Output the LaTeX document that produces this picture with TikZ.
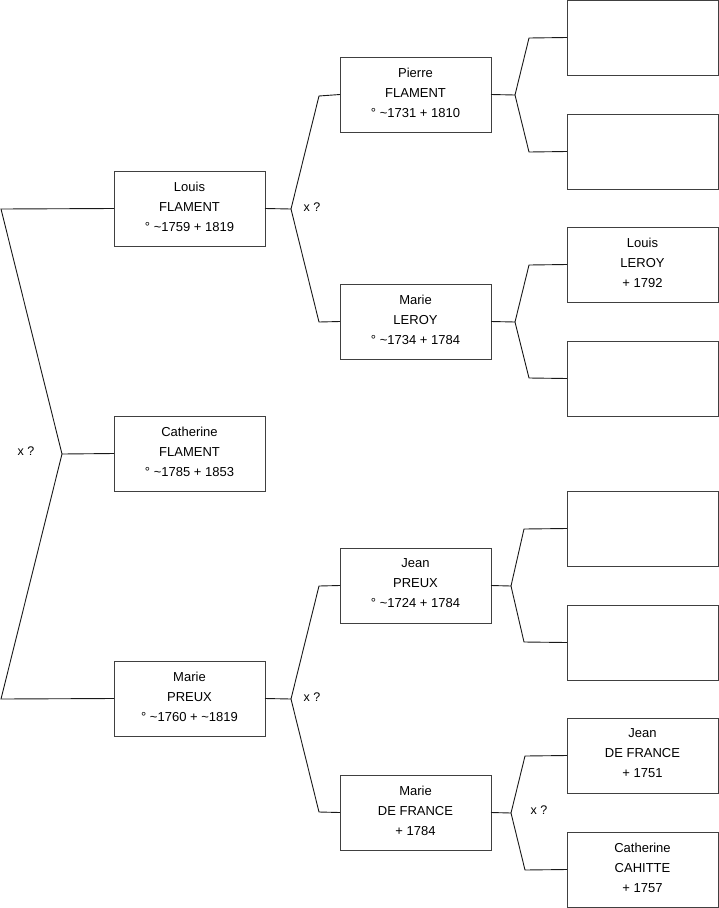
\documentclass[tikz,border=0pt]{standalone}
\usepackage{fontspec}
\setmainfont{Liberation Sans}
\begin{document}
\begin{tikzpicture}[x=1pt,y=-1pt,
  box/.style={draw=black!75, line width=1pt, fill=white, minimum width=151pt, minimum height=75pt,
    inner sep=0pt, outer sep=0pt, align=center, anchor=north west, text depth=4pt,
    font=\fontsize{13}{20}\selectfont},
  link/.style={draw=black!90, line width=0.9pt},
  lbl/.style={font=\fontsize{12.5}{14}\selectfont, inner sep=0pt}]
\useasboundingbox (0,0) rectangle (719,908);
% generation 1
\node[box] (lf) at (114,171) {Louis\\FLAMENT\\° \textasciitilde1759 + 1819};
\node[box] (cf) at (114,416) {Catherine\\FLAMENT\\° \textasciitilde1785 + 1853};
\node[box] (mp) at (114,661) {Marie\\PREUX\\° \textasciitilde1760 + \textasciitilde1819};
% generation 2
\node[box] (pf) at (340,57) {Pierre\\FLAMENT\\° \textasciitilde1731 + 1810};
\node[box] (ml) at (340,284) {Marie\\LEROY\\° \textasciitilde1734 + 1784};
\node[box] (jp) at (340,548) {Jean\\PREUX\\° \textasciitilde1724 + 1784};
\node[box] (md) at (340,775) {Marie\\DE FRANCE\\+ 1784};
% generation 3
\node[box] (r1) at (567,0) {};
\node[box] (r2) at (567,114) {};
\node[box] (r3) at (567,227) {Louis\\LEROY\\+ 1792};
\node[box] (r4) at (567,341) {};
\node[box] (r5) at (567,491) {};
\node[box] (r6) at (567,605) {};
\node[box] (r7) at (567,718) {Jean\\DE FRANCE\\+ 1751};
\node[box] (r8) at (567,832) {Catherine\\CAHITTE\\+ 1757};
% left bracket
\coordinate (a1) at (1,209);
\coordinate (a2) at (62,454);
\coordinate (a3) at (1,699);
\draw[link] (lf.west) -- (a1) -- (a2) -- (cf.west);
\draw[link] (a2) -- (a3) -- (mp.west);
\node[lbl] (x1) at (26,451) {x ?};
% middle brackets
\coordinate (b1) at (291,209);
\coordinate (b1u) at (319,96);
\coordinate (b1d) at (319,322);
\draw[link] (lf.east) -- (b1) -- (b1u) -- (pf.west);
\draw[link] (b1) -- (b1d) -- (ml.west);
\node[lbl] (x2) at (312,207) {x ?};
\coordinate (b2) at (291,699);
\coordinate (b2u) at (319,586);
\coordinate (b2d) at (319,812);
\draw[link] (mp.east) -- (b2) -- (b2u) -- (jp.west);
\draw[link] (b2) -- (b2d) -- (md.west);
\node[lbl] (x3) at (312,697) {x ?};
% right brackets
\coordinate (c1) at (515,95);
\coordinate (c1u) at (529,38);
\coordinate (c1d) at (529,152);
\draw[link] (pf.east) -- (c1) -- (c1u) -- (r1.west);
\draw[link] (c1) -- (c1d) -- (r2.west);
\coordinate (c2) at (515,322);
\coordinate (c2u) at (529,265);
\coordinate (c2d) at (529,378);
\draw[link] (ml.east) -- (c2) -- (c2u) -- (r3.west);
\draw[link] (c2) -- (c2d) -- (r4.west);
\coordinate (c3) at (511,586);
\coordinate (c3u) at (524,529);
\coordinate (c3d) at (524,642);
\draw[link] (jp.east) -- (c3) -- (c3u) -- (r5.west);
\draw[link] (c3) -- (c3d) -- (r6.west);
\coordinate (c4) at (511,813);
\coordinate (c4u) at (525,756);
\coordinate (c4d) at (525,870);
\draw[link] (md.east) -- (c4) -- (c4u) -- (r7.west);
\draw[link] (c4) -- (c4d) -- (r8.west);
\node[lbl] (x4) at (539,810) {x ?};
\end{tikzpicture}
\end{document}
